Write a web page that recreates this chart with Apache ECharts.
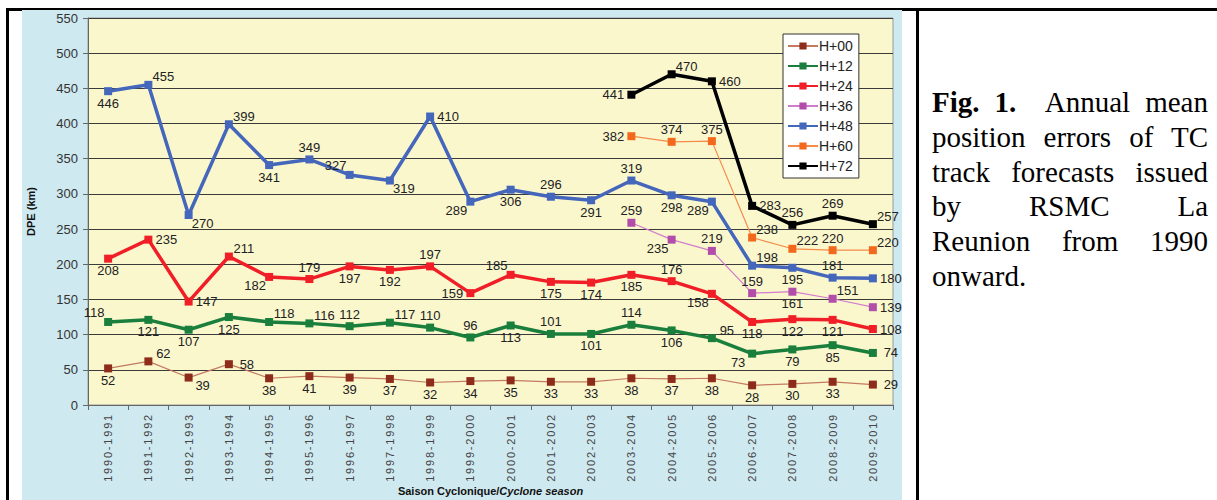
<!DOCTYPE html>
<html>
<head>
<meta charset="utf-8">
<script src="https://cdn.jsdelivr.net/npm/echarts@6/dist/echarts.min.js"></script>
<style>
  html, body { margin: 0; padding: 0; background: #fff; }
  #frame-top { position: absolute; left: 6px; top: 8px; width: 1211px; height: 3px; background: #000; }
  #frame-left { position: absolute; left: 6px; top: 8px; width: 3px; height: 492px; background: #000; }
  #frame-mid { position: absolute; left: 916px; top: 8px; width: 3px; height: 492px; background: #000; }
  #chart { position: absolute; left: 22px; top: 10px; width: 880px; height: 490px; background: #cfe9f0; }
  #chart text[style*="Arimo"] { letter-spacing: 1.8px; }
  #caption { position: absolute; left: 932px; top: 85px; width: 276px; font-family: "Liberation Serif", "Times New Roman", serif; font-size: 29px; line-height: 34.8px; color: #000; }
  #caption div { white-space: nowrap; text-align: justify; text-align-last: justify; }
  #caption div.last { text-align-last: left; }
</style>
</head>
<body>
<div id="frame-top"></div>
<div id="frame-left"></div>
<div id="frame-mid"></div>
<div id="chart"></div>
<div id="caption">
  <div><b>Fig. 1.</b>&nbsp; Annual mean</div>
  <div>position errors of TC</div>
  <div>track forecasts issued</div>
  <div>by RSMC La</div>
  <div>Reunion from 1990</div>
  <div class="last">onward.</div>
</div>
<script>
(function() {
  var seasons = ['1990-1991', '1991-1992', '1992-1993', '1993-1994', '1994-1995', '1995-1996', '1996-1997',
    '1997-1998', '1998-1999', '1999-2000', '2000-2001', '2001-2002', '2002-2003', '2003-2004', '2004-2005',
    '2005-2006', '2006-2007', '2007-2008', '2008-2009', '2009-2010'];
  var yTicks = [0, 50, 100, 150, 200, 250, 300, 350, 400, 450, 500, 550];

  var h00 = [52, 62, 39, 58, 38, 41, 39, 37, 32, 34, 35, 33, 33, 38, 37, 38, 28, 30, 33, 29];
  var h12 = [118, 121, 107, 125, 118, 116, 112, 117, 110, 96, 113, 101, 101, 114, 106, 95, 73, 79, 85, 74];
  var h24 = [208, 235, 147, 211, 182, 179, 197, 192, 197, 159, 185, 175, 174, 185, 176, 158, 118, 122, 121, 108];
  var h36 = [null, null, null, null, null, null, null, null, null, null, null, null, null, 259, 235, 219, 159, 161, 151, 139];
  var h48 = [446, 455, 270, 399, 341, 349, 327, 319, 410, 289, 306, 296, 291, 319, 298, 289, 198, 195, 181, 180];
  var h60 = [null, null, null, null, null, null, null, null, null, null, null, null, null, 382, 374, 375, 238, 222, 220, 220];
  var h72 = [null, null, null, null, null, null, null, null, null, null, null, null, null, 441, 470, 460, 283, 256, 269, 257];

  // where each value label sits around its point
  var pos00 = ['b', 'tr', 'br', 'r', 'b', 'b', 'b', 'b', 'b', 'b', 'b', 'b', 'b', 'b', 'b', 'b', 'b', 'b', 'b', 'r'];
  var pos12 = ['tl', 'b', 'b', 'b', 'tr', 'tr', 't', 'tr', 't', 't', 'b', 't', 'b', 't', 'b', 'tr', 'bl', 'b', 'b', 'r'];
  var pos24 = ['b', 'r', 'r', 'tr', 'bl', 't', 'b', 'b', 't', 'l', 'tl', 'b', 'b', 'b', 't', 'bl', 'b', 'b', 'b', 'r'];
  var pos36 = ['', '', '', '', '', '', '', '', '', '', '', '', '', 't', 'bl', 't', 't', 'b', 'tr', 'r'];
  var pos48 = ['b', 'tr', 'br', 'tr', 'b', 't', 'tl', 'br', 'r', 'bl', 'b', 't', 'b', 't', 'b', 'bl', 'tr', 'b', 't', 'r'];
  var pos60 = ['', '', '', '', '', '', '', '', '', '', '', '', '', 'l', 't', 't', 'tr', 'tr', 't', 'tr'];
  var pos72 = ['', '', '', '', '', '', '', '', '', '', '', '', '', 'l', 'tr', 'r', 'r', 't', 't', 'tr'];

  var offsets = {
    t: [0, -12], b: [0, 12], r: [18, 0], l: [-18, 0],
    tr: [15, -8], br: [14, 8], bl: [-14, 9], tl: [-14, -9]
  };

  function points(values, pos) {
    return values.map(function(v, i) {
      if (v == null) return null;
      return { value: v, label: { offset: offsets[pos[i]] || [0, -12] } };
    });
  }

  function line(name, values, pos, lineColor, markColor, width) {
    return {
      name: name,
      type: 'line',
      data: points(values, pos),
      symbol: 'rect',
      symbolSize: 8,
      connectNulls: false,
      lineStyle: { color: lineColor, width: width },
      itemStyle: { color: markColor },
      label: {
        show: true, position: 'inside', color: '#222',
        fontFamily: 'Liberation Sans, Arial, sans-serif', fontSize: 13
      },
      emphasis: { disabled: true }
    };
  }

  var chart = echarts.init(document.getElementById('chart'), null, { renderer: 'svg' });
  chart.setOption({
    animation: false,
    textStyle: { fontFamily: 'Liberation Sans, Arial, sans-serif' },
    grid: {
      left: 66, top: 8, right: 9, bottom: 95,
      outerBoundsMode: 'none', containLabel: false,
      show: true, backgroundColor: '#fbf7cd', borderColor: '#999', borderWidth: 1
    },
    legend: {
      orient: 'vertical',
      left: 761, top: 24,
      backgroundColor: '#fff', borderColor: '#333', borderWidth: 1,
      padding: [5, 6, 5, 4],
      itemWidth: 30, itemHeight: 9, itemGap: 6,
      textStyle: { fontSize: 14, color: '#222', padding: [0, 0, 0, -4] }
    },
    xAxis: {
      type: 'category',
      data: seasons,
      boundaryGap: true,
      name: '{n|Saison Cyclonique/}{i|Cyclone season}',
      nameLocation: 'middle',
      nameGap: 80,
      nameTextStyle: {
        rich: {
          n: { fontWeight: 'bold', fontSize: 11, color: '#111' },
          i: { fontWeight: 'bold', fontStyle: 'italic', fontSize: 11, color: '#111' }
        }
      },
      axisLine: { lineStyle: { color: '#666' } },
      axisTick: { show: true, length: 5, lineStyle: { color: '#666' } },
      axisLabel: {
        rotate: 90, fontSize: 11, color: '#444', margin: 8, interval: 0,
        fontFamily: 'Arimo, Liberation Sans, Arial, sans-serif'
      }
    },
    yAxis: {
      type: 'value',
      min: yTicks[0], max: yTicks[yTicks.length - 1], interval: 50,
      name: 'DPE (km)',
      nameLocation: 'middle',
      nameGap: 52,
      nameTextStyle: { fontWeight: 'bold', fontSize: 11, color: '#111' },
      axisLine: { show: true, lineStyle: { color: '#666' } },
      axisTick: { show: true, length: 5, lineStyle: { color: '#666' } },
      axisLabel: { fontSize: 13, color: '#333', margin: 10 },
      splitLine: { lineStyle: { color: '#3a3a3a', width: 1 } }
    },
    series: [
      line('H+00', h00, pos00, '#c47a60', '#8e2c1c', 1.2),
      line('H+12', h12, pos12, '#1a7f3c', '#1a7f3c', 3.5),
      line('H+24', h24, pos24, '#f01e26', '#f01e26', 3.5),
      line('H+36', h36, pos36, '#d27ccc', '#b24eaa', 1.2),
      line('H+48', h48, pos48, '#4466bb', '#4466bb', 3.5),
      line('H+60', h60, pos60, '#f58a4a', '#f2691e', 1.2),
      line('H+72', h72, pos72, '#000', '#000', 3.5)
    ]
  });
  window.addEventListener('resize', function() { chart.resize(); });
})();
</script>
</body>
</html>
